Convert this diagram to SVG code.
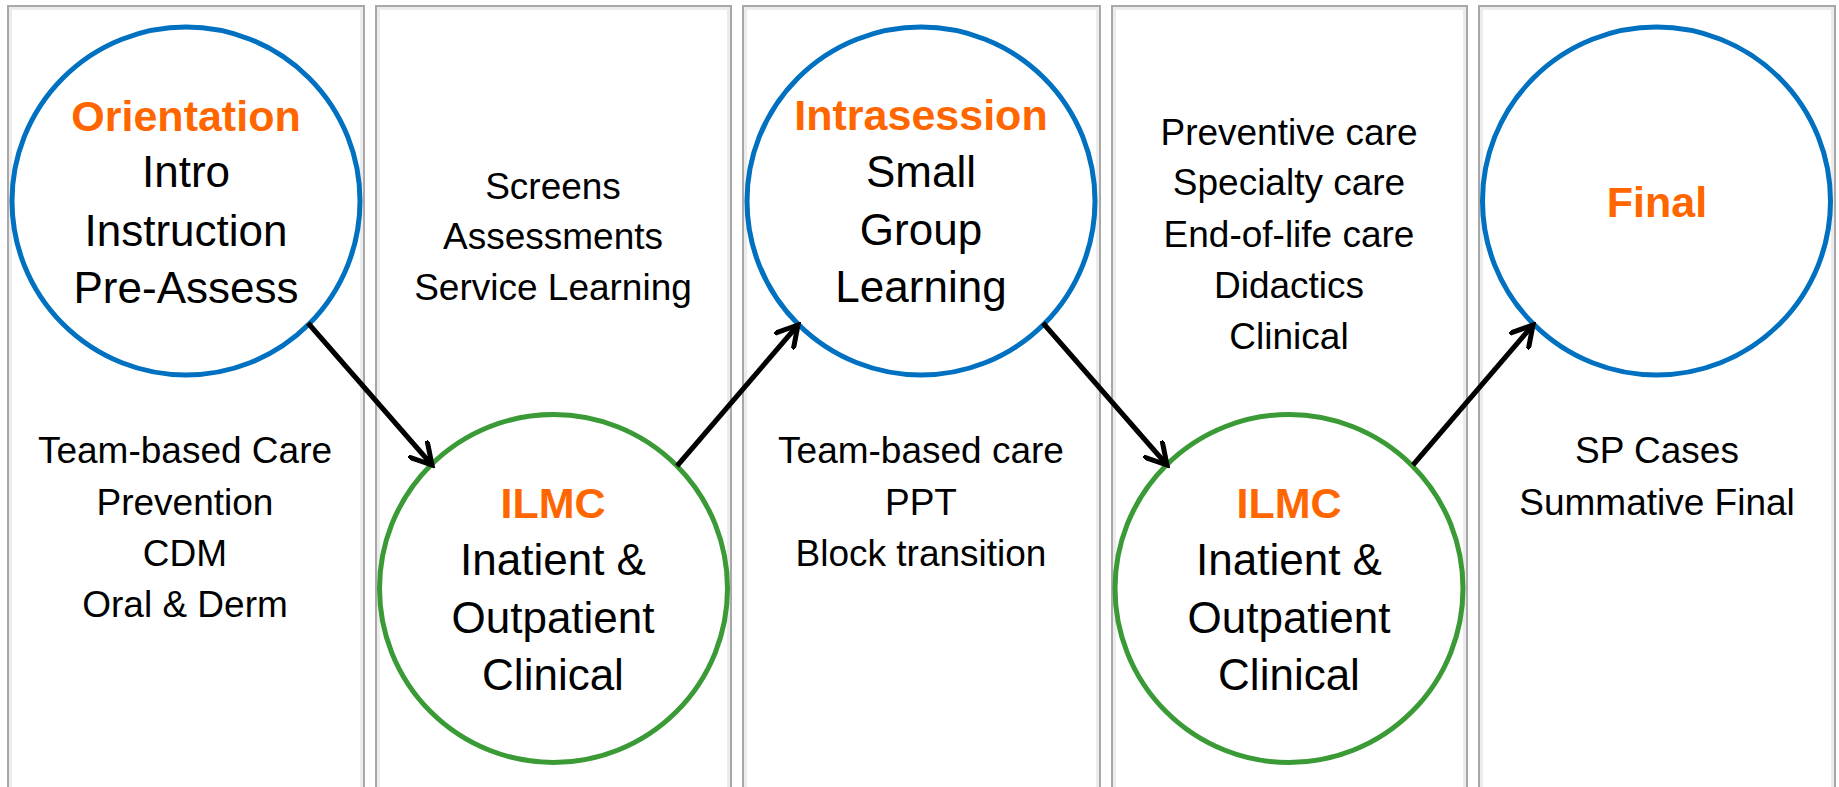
<svg xmlns="http://www.w3.org/2000/svg" width="1839" height="787" viewBox="0 0 1839 787">
<style>
.panel{fill:#ffffff;stroke:#a8a8a8;stroke-width:2}
.inner{fill:none;stroke:#ececec;stroke-width:3}
.blue{fill:#ffffff;stroke:#0070C0;stroke-width:5}
.green{fill:#ffffff;stroke:#3A9A35;stroke-width:5}
.t{font-family:"Liberation Sans",Arial,sans-serif;fill:#000000;text-anchor:middle}
.c{font-size:44px}
.s{font-size:37px}
.h{font-size:43px;font-weight:bold;fill:#FF6600}
.arrow{stroke:#000000;stroke-width:5;fill:none;marker-end:url(#ah)}
</style>
<defs>
<marker id="ah" viewBox="0 0 26 26" refX="22" refY="13" markerWidth="26" markerHeight="26" markerUnits="userSpaceOnUse" orient="auto">
<path d="M1,1 L22,13 L1,25" fill="none" stroke="#000000" stroke-width="5" stroke-linejoin="miter" stroke-linecap="round"/>
</marker>
</defs>
<rect width="1839" height="787" fill="#ffffff"/>
<g id="panels">
<rect class="panel" x="8" y="6" width="356" height="800"/>
<rect class="inner" x="10.5" y="8.5" width="351" height="800"/>
<rect class="panel" x="376" y="6" width="355" height="800"/>
<rect class="inner" x="378.5" y="8.5" width="350" height="800"/>
<rect class="panel" x="743" y="6" width="357" height="800"/>
<rect class="inner" x="745.5" y="8.5" width="352" height="800"/>
<rect class="panel" x="1112" y="6" width="355" height="800"/>
<rect class="inner" x="1114.5" y="8.5" width="350" height="800"/>
<rect class="panel" x="1479" y="6" width="356" height="800"/>
<rect class="inner" x="1481.5" y="8.5" width="351" height="800"/>
</g>
<g id="text-panel1">
<text class="t s" x="185" y="463">Team-based Care</text>
<text class="t s" x="185" y="515">Prevention</text>
<text class="t s" x="185" y="566">CDM</text>
<text class="t s" x="185" y="617">Oral &amp; Derm</text>
</g>
<g id="text-panel2">
<text class="t s" x="553" y="199">Screens</text>
<text class="t s" x="553" y="249">Assessments</text>
<text class="t s" x="553" y="300">Service Learning</text>
</g>
<g id="text-panel3">
<text class="t s" x="921" y="463">Team-based care</text>
<text class="t s" x="921" y="515">PPT</text>
<text class="t s" x="921" y="566">Block transition</text>
</g>
<g id="text-panel4">
<text class="t s" x="1289" y="145">Preventive care</text>
<text class="t s" x="1289" y="195">Specialty care</text>
<text class="t s" x="1289" y="247">End-of-life care</text>
<text class="t s" x="1289" y="298">Didactics</text>
<text class="t s" x="1289" y="349">Clinical</text>
</g>
<g id="text-panel5">
<text class="t s" x="1657" y="463">SP Cases</text>
<text class="t s" x="1657" y="515">Summative Final</text>
</g>
<g id="orientation">
<circle class="blue" cx="186" cy="201" r="174"/>
<text class="t h" x="186" y="131">Orientation</text>
<text class="t c" x="186" y="187">Intro</text>
<text class="t c" x="186" y="246">Instruction</text>
<text class="t c" x="186" y="303">Pre-Assess</text>
</g>
<g id="ilmc1">
<circle class="green" cx="553.5" cy="588.5" r="174"/>
<text class="t h" x="553" y="518">ILMC</text>
<text class="t c" x="553" y="575">Inatient &amp;</text>
<text class="t c" x="553" y="633">Outpatient</text>
<text class="t c" x="553" y="690">Clinical</text>
</g>
<g id="intrasession">
<circle class="blue" cx="921" cy="201" r="174"/>
<text class="t h" x="921" y="130">Intrasession</text>
<text class="t c" x="921" y="187">Small</text>
<text class="t c" x="921" y="245">Group</text>
<text class="t c" x="921" y="302">Learning</text>
</g>
<g id="ilmc2">
<circle class="green" cx="1289" cy="588.5" r="174"/>
<text class="t h" x="1289" y="518">ILMC</text>
<text class="t c" x="1289" y="575">Inatient &amp;</text>
<text class="t c" x="1289" y="633">Outpatient</text>
<text class="t c" x="1289" y="690">Clinical</text>
</g>
<g id="final">
<circle class="blue" cx="1656.5" cy="201" r="174"/>
<text class="t h" x="1657" y="217">Final</text>
</g>
<g id="connectors">
<line class="arrow" x1="308" y1="323" x2="432" y2="465"/>
<line class="arrow" x1="677" y1="466" x2="798" y2="325"/>
<line class="arrow" x1="1043" y1="323" x2="1167" y2="465"/>
<line class="arrow" x1="1413" y1="465" x2="1533" y2="325"/>
</g>
</svg>
